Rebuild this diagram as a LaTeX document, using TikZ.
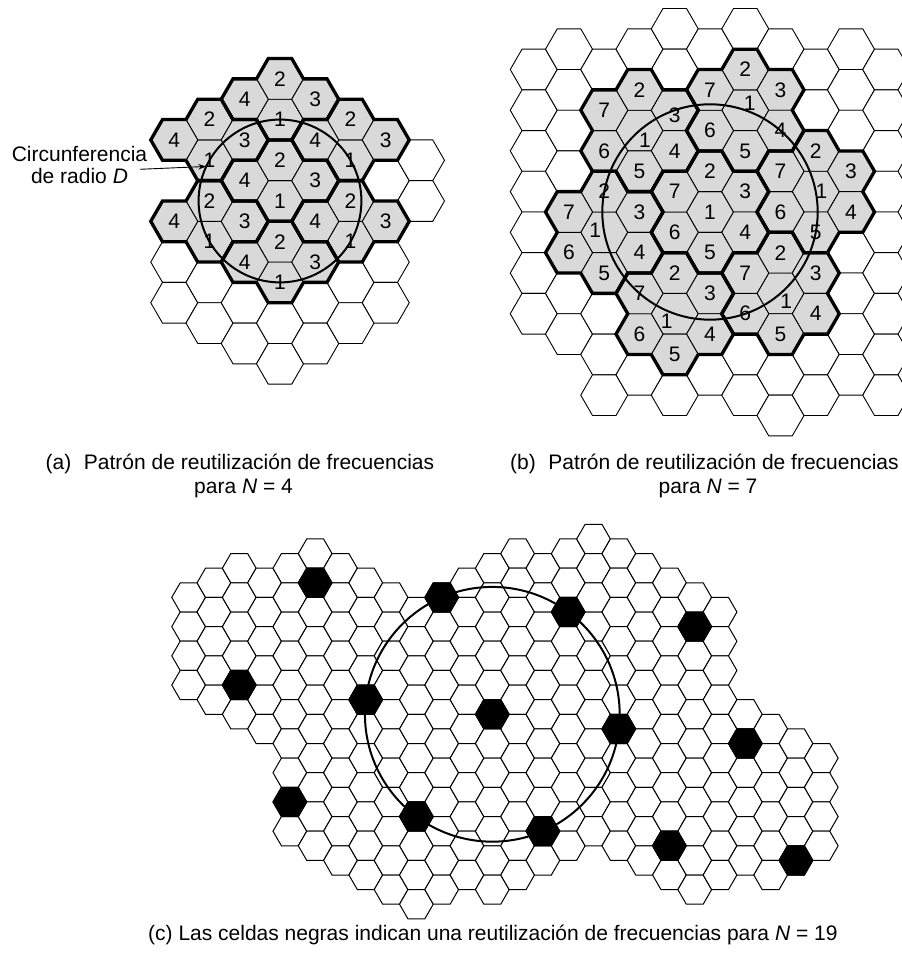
\documentclass[tikz,border=0pt]{standalone}
\usepackage{fontspec}
\setmainfont{Liberation Sans}
\usetikzlibrary{arrows.meta}
\definecolor{cellgray}{RGB}{217,217,217}

% one flat-topped hexagonal cell; (#2,#3) = column, half-row (rows count downwards)
\newcommand\hexcell[3][]{%
  \path[#1] ({1.5*(#2)},{-0.8660254*(#3)}) +(0:1) -- +(60:1) -- +(120:1)
    -- +(180:1) -- +(240:1) -- +(300:1) -- cycle;}
% a column of cells from half-row #3 down to half-row #4
\newcommand\hexcolumn[4]{%
  \pgfmathtruncatemacro\ncells{((#4)-(#3))/2}%
  \foreach \i in {0,...,\ncells}{%
    \pgfmathtruncatemacro\hcur{(#3)+2*\i}%
    \hexcell[#1]{#2}{\hcur}}}
% channel number written in the centre of a cell
\newcommand\hexlabel[4][]{%
  \node[digit,#1] at ({1.5*(#2)},{-0.8660254*(#3)}) {#4};}
% thick border of a four-cell cluster; (#1,#2) = its cell of channel 1
\newcommand\quadoutline[2]{%
  \begin{scope}[shift={({1.5*(#1)},{-0.8660254*(#2)})}]
    \draw[clusterline] (1,0) -- (2,0) -- (2.5,0.8660) -- (2,1.7321) -- (1,1.7321)
      -- (0.5,2.5981) -- (-0.5,2.5981) -- (-1,1.7321) -- (-2,1.7321) -- (-2.5,0.8660)
      -- (-2,0) -- (-1,0) -- (-0.5,-0.8660) -- (0.5,-0.8660) -- cycle;
  \end{scope}}
% thick border of a seven-cell cluster; (#1,#2) = its centre cell
\newcommand\floweroutline[2]{%
  \begin{scope}[shift={({1.5*(#1)},{-0.8660254*(#2)})}]
    \draw[clusterline] (2,0) -- (2.5,0.8660) -- (2,1.7321) -- (1,1.7321)
      -- (0.5,2.5981) -- (-0.5,2.5981) -- (-1,1.7321) -- (-2,1.7321) -- (-2.5,0.8660)
      -- (-2,0) -- (-2.5,-0.8660) -- (-2,-1.7321) -- (-1,-1.7321) -- (-0.5,-2.5981)
      -- (0.5,-2.5981) -- (1,-1.7321) -- (2,-1.7321) -- (2.5,-0.8660) -- cycle;
  \end{scope}}

\begin{document}
\begin{tikzpicture}[x=1pt,y=1pt,
  whitecell/.style={fill=white,draw=black,line width=0.9pt},
  graycell/.style={fill=cellgray,draw=black,line width=0.9pt},
  smallcell/.style={fill=white,draw=black,line width=1pt},
  blackcell/.style={fill=black,draw=black,line width=1pt},
  clusterline/.style={draw=black,line width=3.3pt,line join=miter},
  reusecircle/.style={draw=black,line width=2pt},
  digit/.style={font=\fontsize{21}{25}\selectfont,inner sep=0pt},
  caption/.style={font=\fontsize{21}{25}\selectfont,inner sep=0pt}]
\useasboundingbox (0,0) rectangle (902,956);
\clip (0,0) rectangle (902,956);

% ---------------- (a) reuse pattern N = 4 ----------------
\begin{scope}[shift={(280pt,755pt)},x=23.5pt,y=23.5pt]
  \foreach \kk/\hh in {3/-1,4/-2,4/0,-3/3,-3/5,-2/4,-2/6,-1/5,-1/7,0/6,0/8,1/5,1/7,2/4,2/6,3/3,3/5}
    {\hexcell[whitecell]{\kk}{\hh}}
  \foreach \kk/\hh in {0/-4,-2/-2,2/-2,0/0,-2/2,2/2,0/4}{%
    \hexcell[graycell]{\kk}{\hh}
    \hexcell[graycell]{\kk}{\hh-2}
    \hexcell[graycell]{\kk+1}{\hh-1}
    \hexcell[graycell]{\kk-1}{\hh-1}
    \hexlabel[name=a\kk\hh f1]{\kk}{\hh}{1}
    \hexlabel[name=a\kk\hh f2]{\kk}{\hh-2}{2}
    \hexlabel[name=a\kk\hh f3]{\kk+1}{\hh-1}{3}
    \hexlabel[name=a\kk\hh f4]{\kk-1}{\hh-1}{4}
  }
  \foreach \kk/\hh in {0/-4,-2/-2,2/-2,0/0,-2/2,2/2,0/4}{\quadoutline{\kk}{\hh}}
  \draw[reusecircle] (0,0) circle [radius=3.4641];
  \coordinate (rimpoint) at (154.9:3.4641);
\end{scope}

\node[caption,anchor=base] (circtext1) at (79.5,794.5) {Circunferencia};
\node[caption,anchor=base] (circtext2) at (79.5,772) {de radio \textit{D}};
\coordinate (arrowstart) at (140,786.7);
\draw[line width=0.9pt,-{Stealth[length=8pt,width=5.5pt]}] (arrowstart) -- (rimpoint);

% ---------------- (b) reuse pattern N = 7 ----------------
\begin{scope}[shift={(710pt,744pt)},x=23.5pt,y=23.5pt]
  \foreach \kk/\ha/\hb in {-5/-7/5,-4/-8/6,-3/-7/9,-2/-8/8,-1/-9/9,0/-8/8,1/-9/9,2/-8/10,3/-7/9,4/-8/8,5/-7/9}
    {\hexcolumn{whitecell}{\kk}{\ha}{\hb}}
  \foreach \kk/\hh/\dx/\dy/\ty in {0/0/0/0/0,1/-5/4.4/7/0,-2/-4/5.5/-9.4/-4.7,3/-1/5.6/0/0,-3/1/-9/2/0,2/4/5.8/-8.3/0,-1/5/-8/-8/0}{%
    \hexcell[graycell]{\kk}{\hh}
    \hexcell[graycell]{\kk}{\hh-2}
    \hexcell[graycell]{\kk+1}{\hh-1}
    \hexcell[graycell]{\kk+1}{\hh+1}
    \hexcell[graycell]{\kk}{\hh+2}
    \hexcell[graycell]{\kk-1}{\hh+1}
    \hexcell[graycell]{\kk-1}{\hh-1}
    \hexlabel[name=b\kk\hh f1,xshift=\dx pt,yshift=\dy pt]{\kk}{\hh}{1}
    \hexlabel[name=b\kk\hh f2]{\kk}{\hh-2}{2}
    \hexlabel[name=b\kk\hh f3,yshift=\ty pt]{\kk+1}{\hh-1}{3}
    \hexlabel[name=b\kk\hh f4]{\kk+1}{\hh+1}{4}
    \hexlabel[name=b\kk\hh f5]{\kk}{\hh+2}{5}
    \hexlabel[name=b\kk\hh f6]{\kk-1}{\hh+1}{6}
    \hexlabel[name=b\kk\hh f7]{\kk-1}{\hh-1}{7}
  }
  \foreach \kk/\hh in {0/0,1/-5,-2/-4,3/-1,-3/1,2/4,-1/5}{\floweroutline{\kk}{\hh}}
  \draw[reusecircle] (0,0) circle [radius=4.5826];
\end{scope}

% ---------------- (c) reuse pattern N = 19 ----------------
\begin{scope}[shift={(492.3pt,241.7pt)},x=16.87pt,y=16.87pt]
  \foreach \kk/\ha/\hb in {-12/-8/-2,-11/-9/-1,-10/-10/0,-9/-9/1,-8/-10/8,-7/-11/9,
      -6/-10/10,-5/-9/11,-4/-8/12,-3/-7/13,-2/-8/12,-1/-9/11,0/-10/12,1/-11/11,
      2/-10/10,3/-11/9,4/-12/8,5/-11/9,6/-10/10,7/-9/11,8/-8/12,9/-7/11,
      10/0/10,11/1/11,12/2/10,13/3/9}
    {\hexcolumn{smallcell}{\kk}{\ha}{\hb}}
  \foreach \kk/\hh in {0/0,5/1,-5/-1,10/2,-10/-2,2/8,-2/-8,3/-7,-3/7,-7/-9,7/9,8/-6,-8/6,12/10}
    {\hexcell[blackcell]{\kk}{\hh}}
  \draw[reusecircle] (0,0) circle [radius=7.5498];
\end{scope}

% ---------------- captions ----------------
\node[caption,anchor=base west] (capa1) at (45.5,486.5) {(a)\hspace{0.6em}Patrón de reutilización de frecuencias};
\node[caption,anchor=base] (capa2) at (243.5,462) {para \textit{N} = 4};
\node[caption,anchor=base west] (capb1) at (510,486) {(b)\hspace{0.6em}Patrón de reutilización de frecuencias};
\node[caption,anchor=base] (capb2) at (708,462) {para \textit{N} = 7};
\node[caption,anchor=base west] (capc) at (148,16) {(c) Las celdas negras indican una reutilización de frecuencias para \textit{N} = 19};
\end{tikzpicture}
\end{document}
